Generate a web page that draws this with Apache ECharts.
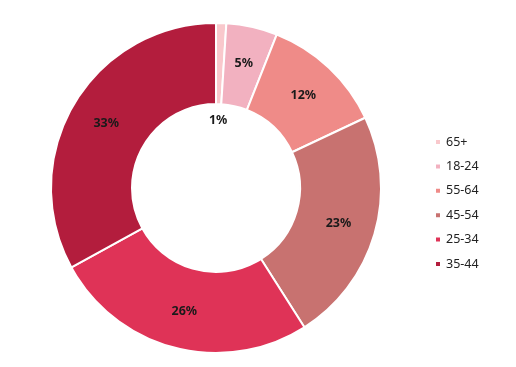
<!DOCTYPE html>
<html>
<head>
<meta charset="utf-8">
<script src="https://cdn.jsdelivr.net/npm/echarts@6/dist/echarts.min.js"></script>
<style>html,body{margin:0;padding:0;background:#fff}#c{width:516px;height:367px}</style>
</head>
<body>
<div id="c"></div>
<script>
var categories = ['65+', '18-24', '55-64', '45-54', '25-34', '35-44'];
var values = [1, 5, 12, 23, 26, 33];
var colors = ['#f9c8cc', '#f2b1c0', '#ef8b88', '#c87270', '#df3357', '#b31d3d'];

var chart = echarts.init(document.getElementById('c'), null, {renderer: 'canvas'});
var mainData = categories.map(function (c, i) {
  return {
    name: c, value: values[i],
    itemStyle: {color: colors[i]},
    label: {show: values[i] >= 2}
  };
});
var labelData = categories.map(function (c, i) {
  return {
    name: c, value: values[i],
    label: {show: values[i] < 2}
  };
});
var labelFont = {fontFamily: 'Noto Sans', fontSize: 12.5, fontWeight: 'bold', color: '#1a1a1a'};
chart.setOption({
  animation: false,
  color: colors,
  legend: {
    orient: 'vertical',
    left: 429, top: 130,
    itemWidth: 6, itemHeight: 6,
    itemGap: 10.4,
    icon: 'rect',
    data: categories,
    textStyle: {fontFamily: 'Noto Sans', fontSize: 12.5, color: '#222', lineHeight: 14}
  },
  series: [{
    type: 'pie',
    center: [216, 188],
    radius: [84, 165],
    startAngle: 90,
    clockwise: true,
    avoidLabelOverlap: false,
    itemStyle: {borderColor: '#fff', borderWidth: 2},
    label: Object.assign({position: 'inside', formatter: '{c}%'}, labelFont),
    labelLine: {show: false},
    emphasis: {disabled: true},
    data: mainData
  }, {
    type: 'pie',
    center: [216, 188],
    radius: [0, 130],
    startAngle: 90,
    clockwise: true,
    silent: true,
    legendHoverLink: false,
    avoidLabelOverlap: false,
    itemStyle: {color: 'rgba(0,0,0,0)', borderWidth: 0},
    label: Object.assign({position: 'inside', formatter: '{c}%'}, labelFont),
    labelLine: {show: false},
    emphasis: {disabled: true},
    z: 3,
    data: labelData
  }]
});
</script>
</body>
</html>
